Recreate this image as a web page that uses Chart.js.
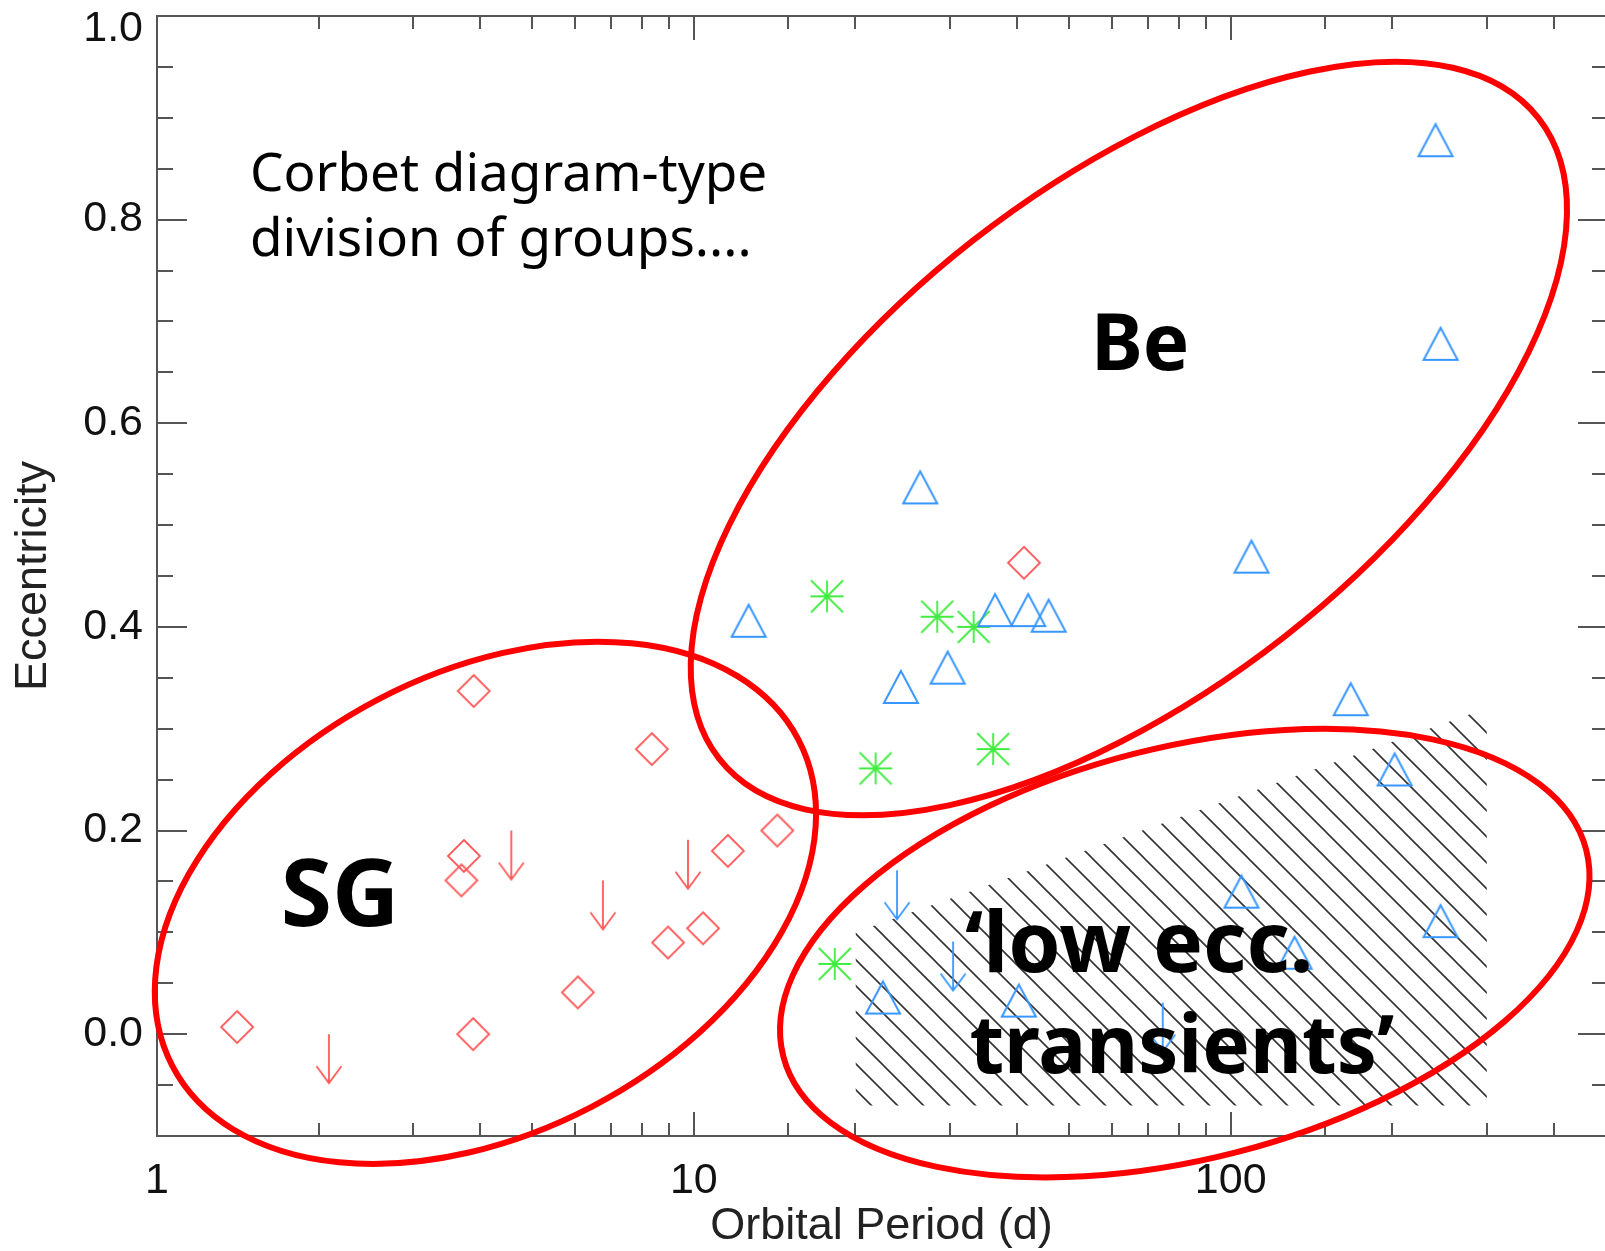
<!DOCTYPE html>
<html>
<head>
<meta charset="utf-8">
<script src="https://cdn.jsdelivr.net/npm/chart.js@4.4.1/dist/chart.umd.min.js"></script>
<style>
  html, body { margin: 0; padding: 0; background: #fff; overflow: hidden; }
  #wrap { width: 1625px; height: 1251px; }
</style>
</head>
<body>
<div id="wrap"><canvas id="corbet" width="1625" height="1251"></canvas></div>
<script>
// Supergiant systems: orbital period (d) and eccentricity
const sgPeriod = [1.41, 3.89, 3.73, 3.69, 3.88, 8.35, 6.08, 8.95, 10.4, 11.57, 14.3, 41.2];
const sgEcc    = [0.007, 0.337, 0.175, 0.151, 0.000, 0.280, 0.041, 0.090, 0.104, 0.180, 0.200, 0.463];
// Supergiant systems with only an upper limit on eccentricity
const sgLimitPeriod = [2.09, 4.57, 6.77, 9.75];
const sgLimitEcc    = [0.000, 0.200, 0.151, 0.191];
// Be systems
const bePeriod = [26.4, 12.65, 36.4, 41.95, 45.8, 29.7, 24.3, 240.7, 246, 109.3, 167.3, 202, 104.7, 246, 131.5, 22.5, 40.3];
const beEcc    = [0.537, 0.406, 0.4165, 0.4165, 0.411, 0.360, 0.341, 0.878, 0.678, 0.469, 0.329, 0.260, 0.140, 0.111, 0.080, 0.036, 0.033];
// Be systems with only an upper limit on eccentricity
const beLimitPeriod = [23.9, 30.4, 74.7];
const beLimitEcc    = [0.161, 0.091, 0.031];
// Other systems
const otherPeriod = [17.7, 28.4, 33.2, 36.1, 21.8, 18.3];
const otherEcc    = [0.430, 0.410, 0.400, 0.280, 0.261, 0.069];
// Low-eccentricity transient zone (hatched)
const zonePeriod  = [20, 300];
const zoneTopEcc  = [0.10, 0.32];
const zoneFloorEcc = -0.07;

// Axis labels
const xTickLabels = ['1', '10', '100'];
const yTickLabels = ['0.0', '0.2', '0.4', '0.6', '0.8', '1.0'];

const RED = 'rgb(255,88,88)';
const BLUE = 'rgb(56,150,255)';
const GREEN = 'rgb(64,236,64)';
const AXIS = '#555';
const AXIS_FONT = '"Liberation Sans", Arial, sans-serif';
const NOTE_FONT = '"Noto Sans", "Open Sans", sans-serif';

// Group outlines: centre in data units, semi-axes in pixels, tilt in degrees
const groupOutlines = [
  { centre: [64.6, 0.585], rx: 520, ry: 252, tilt: 38 },
  { centre: [4.09, 0.129], rx: 353, ry: 230, tilt: 27.5 },
  { centre: [82.1, 0.0796], rx: 414.5, ry: 205.7, tilt: 14.4 }
];

// Text notes anchored (left, baseline) at a data position
const notes = [
  { text: 'Corbet diagram-type', at: [1.49, 0.828], size: 53, weight: 400 },
  { text: 'division of groups....', at: [1.49, 0.764], size: 53, weight: 400 },
  { text: 'Be', at: [54.9, 0.652], size: 78, weight: 700 },
  { text: 'SG', at: [1.70, 0.106], size: 93, weight: 700 },
  { text: '\u2018low ecc.', at: [32.0, 0.061], size: 84, weight: 700 },
  { text: 'transients\u2019', at: [32.6, -0.038], size: 80, weight: 700 }
];

const pts = (xs, ys) => xs.map((v, i) => ({ x: v, y: ys[i] }));

// Marker symbols, each centred on its canvas
function symbol(w, h, color, lw, draw) {
  const c = document.createElement('canvas');
  c.width = w; c.height = h;
  const g = c.getContext('2d');
  g.strokeStyle = color; g.lineWidth = lw; g.lineJoin = 'miter';
  g.beginPath(); draw(g); g.stroke();
  return c;
}
const diamondSym = symbol(38, 38, RED, 1.8, g => {
  g.moveTo(19, 3); g.lineTo(35, 19); g.lineTo(19, 35); g.lineTo(3, 19); g.closePath();
});
const triangleSym = symbol(40, 38, BLUE, 2, g => {
  g.moveTo(20, 3); g.lineTo(37, 35); g.lineTo(3, 35); g.closePath();
});
const asteriskSym = symbol(38, 38, GREEN, 1.8, g => {
  g.moveTo(2.5, 19); g.lineTo(35.5, 19);
  g.moveTo(19, 3); g.lineTo(19, 35);
  g.moveTo(3, 3); g.lineTo(35, 35);
  g.moveTo(35, 3); g.lineTo(3, 35);
});
function arrowSym(color) {
  // tail sits at the canvas centre, head points down
  return symbol(30, 104, color, 1.8, g => {
    g.moveTo(15, 52); g.lineTo(15, 101);
    g.moveTo(2.5, 84); g.lineTo(15, 101); g.lineTo(27.5, 84);
  });
}

// 45 degree line hatching
function hatch() {
  const s = 26;
  const c = document.createElement('canvas');
  c.width = s; c.height = s;
  const g = c.getContext('2d');
  g.strokeStyle = 'rgba(15,15,15,0.85)'; g.lineWidth = 1.6;
  g.beginPath();
  for (const off of [-s, 0, s]) { g.moveTo(off - 2, -2); g.lineTo(off + s + 2, s + 2); }
  g.stroke();
  return g.createPattern(c, 'repeat');
}

const isDecade = v => Math.abs(Math.log10(v) - Math.round(Math.log10(v))) < 1e-6;
const isMajorY = v => Math.abs(v * 5 - Math.round(v * 5)) < 1e-6;
const isTopY = v => Math.abs(v - 1) < 1e-6;

// Frame with inward ticks on all four sides
const framePlugin = {
  id: 'frame',
  beforeDatasetsDraw(chart) {
    const { ctx, chartArea: a, scales: { x, y } } = chart;
    ctx.save();
    ctx.strokeStyle = AXIS;
    ctx.lineWidth = 2;
    ctx.strokeRect(a.left, a.top, a.right - a.left, a.bottom - a.top);
    ctx.beginPath();
    x.ticks.forEach(t => {
      const px = Math.round(x.getPixelForValue(t.value));
      const len = isDecade(t.value) ? 24 : 13;
      ctx.moveTo(px, a.bottom); ctx.lineTo(px, a.bottom - len);
      ctx.moveTo(px, a.top); ctx.lineTo(px, a.top + len);
    });
    y.ticks.forEach(t => {
      const py = Math.round(y.getPixelForValue(t.value));
      const major = isMajorY(t.value);
      ctx.moveTo(a.left, py); ctx.lineTo(a.left + (major ? 30 : 16), py);
      ctx.moveTo(a.right, py); ctx.lineTo(a.right - (major ? 28 : 14), py);
    });
    ctx.stroke();
    ctx.restore();
  }
};

// Group outlines and notes
const notesPlugin = {
  id: 'notes',
  afterDatasetsDraw(chart) {
    const { ctx, scales: { x, y } } = chart;
    ctx.save();
    ctx.strokeStyle = '#ff0000';
    ctx.lineWidth = 6;
    groupOutlines.forEach(o => {
      ctx.beginPath();
      ctx.ellipse(x.getPixelForValue(o.centre[0]), y.getPixelForValue(o.centre[1]),
        o.rx, o.ry, -o.tilt * Math.PI / 180, 0, Math.PI * 2);
      ctx.stroke();
    });
    ctx.fillStyle = '#000';
    ctx.textAlign = 'left';
    ctx.textBaseline = 'alphabetic';
    notes.forEach(n => {
      ctx.font = `${n.weight} ${n.size}px ${NOTE_FONT}`;
      ctx.fillText(n.text, x.getPixelForValue(n.at[0]), y.getPixelForValue(n.at[1]));
    });
    ctx.restore();
  }
};

const markerSet = (data, sym) => ({
  data, pointStyle: sym, pointRadius: 10, pointHoverRadius: 10, order: 1
});

new Chart(document.getElementById('corbet'), {
  type: 'scatter',
  data: {
    datasets: [
      markerSet(pts(sgPeriod, sgEcc), diamondSym),
      markerSet(pts(sgLimitPeriod, sgLimitEcc), arrowSym(RED)),
      markerSet(pts(bePeriod, beEcc), triangleSym),
      markerSet(pts(beLimitPeriod, beLimitEcc), arrowSym(BLUE)),
      markerSet(pts(otherPeriod, otherEcc), asteriskSym),
      {
        type: 'line',
        data: pts(zonePeriod, zoneTopEcc),
        fill: { value: zoneFloorEcc },
        backgroundColor: hatch(),
        borderColor: 'rgba(0,0,0,0)',
        borderWidth: 0,
        pointRadius: 0,
        order: 10
      }
    ]
  },
  options: {
    responsive: false,
    animation: false,
    events: [],
    layout: { padding: { left: 0, right: 16, top: 16, bottom: 0 } },
    plugins: { legend: { display: false }, tooltip: { enabled: false } },
    scales: {
      x: {
        type: 'logarithmic',
        min: 1, max: 500,
        grid: { display: false, drawTicks: false },
        border: { display: false },
        ticks: {
          autoSkip: false, maxRotation: 0, minRotation: 0, padding: 19,
          color: '#111', font: { family: AXIS_FONT, size: 43 },
          callback: v => isDecade(v) ? xTickLabels[Math.round(Math.log10(v))] : ''
        },
        title: {
          display: true, text: 'Orbital Period (d)', color: '#222',
          font: { family: AXIS_FONT, size: 45, lineHeight: 1.1 }, padding: { top: 0, bottom: 0 }
        },
        afterFit(s) { s.height = 115; }
      },
      y: {
        min: -0.1, max: 1.0,
        grid: { display: false, drawTicks: false },
        border: { display: false },
        ticks: {
          stepSize: 0.05, autoSkip: false, padding: 14,
          color: '#111',
          // the top label sits one half-line below its tick
          font: c => ({ family: AXIS_FONT, size: 43, lineHeight: (c.tick && isTopY(c.tick.value)) ? 0.6 : 1.2 }),
          callback: v => {
            if (!(isMajorY(v) && v > -0.01)) return '';
            const label = yTickLabels[Math.round(v * 5)];
            return isTopY(v) ? ['', label] : label;
          }
        },
        title: {
          display: true, text: 'Eccentricity', color: '#222',
          font: { family: AXIS_FONT, size: 45 }, padding: { top: 7, bottom: 0 }
        },
        afterFit(s) { s.width = 157; s.paddingTop = 0; s.paddingBottom = 0; }
      }
    }
  },
  plugins: [framePlugin, notesPlugin]
});
</script>
</body>
</html>
